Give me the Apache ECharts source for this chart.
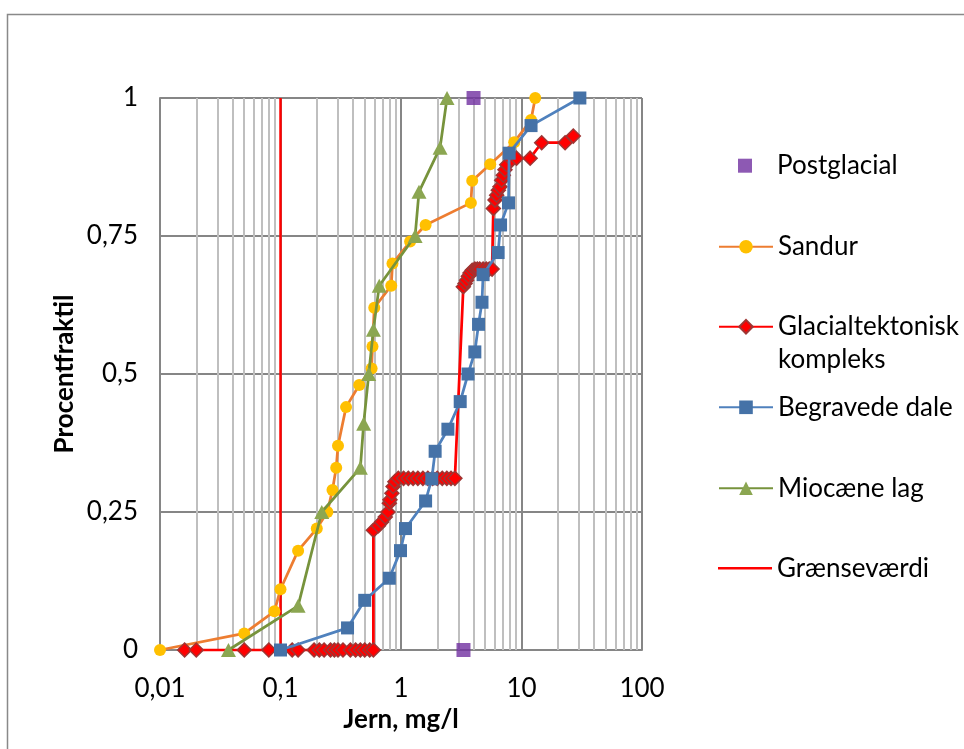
<!DOCTYPE html>
<html><head><meta charset="utf-8">
<script src="https://cdn.jsdelivr.net/npm/echarts@6/dist/echarts.min.js"></script>
<style>html,body{margin:0;padding:0;background:#fff}#c{width:964px;height:749px}</style>
</head><body><div id="c"></div>
<script>
// ---- data ----
const xTickLabels = ['0,01', '0,1', '1', '10', '100'];
const yTickLabels = ['0', '0,25', '0,5', '0,75', '1'];

const postX = [4.0, 3.3];
const postY = [1, 0];

const sandurX = [0.01, 0.05, 0.089, 0.1, 0.14, 0.2, 0.245, 0.27, 0.29, 0.3, 0.35, 0.45, 0.57, 0.58, 0.6, 0.83, 0.85, 1.19, 1.6, 3.8, 3.9, 5.5, 8.7, 12, 13];
const sandurY = [0, 0.03, 0.07, 0.11, 0.18, 0.22, 0.25, 0.29, 0.33, 0.37, 0.44, 0.48, 0.51, 0.55, 0.62, 0.66, 0.70, 0.74, 0.77, 0.81, 0.85, 0.88, 0.92, 0.96, 1.0];

const glacX = [0.016, 0.02, 0.05, 0.08, 0.125, 0.14, 0.19, 0.21, 0.23, 0.26, 0.28, 0.3, 0.33, 0.38, 0.42, 0.46, 0.5, 0.55, 0.59,
  0.59, 0.65, 0.69, 0.74, 0.78, 0.8, 0.81, 0.84, 0.86, 0.89, 0.95,
  1.05, 1.15, 1.26, 1.38, 1.52, 1.67, 1.83, 2.0, 2.2, 2.4, 2.6, 2.8,
  3.29, 3.4, 3.5, 3.62, 3.74, 3.9, 4.1, 4.3, 4.5, 4.8, 5.1, 5.4, 5.7,
  5.84, 6.03, 6.22, 6.42, 6.63, 6.85, 7.06, 7.29, 7.54, 8.3, 9.1, 11.8, 14.7, 23, 26.9];
const glacY = [0, 0, 0, 0, 0, 0, 0, 0, 0, 0, 0, 0, 0, 0, 0, 0, 0, 0, 0,
  0.217, 0.225, 0.232, 0.241, 0.25, 0.266, 0.272, 0.284, 0.296, 0.305, 0.311,
  0.311, 0.311, 0.311, 0.311, 0.311, 0.311, 0.311, 0.311, 0.311, 0.311, 0.311, 0.311,
  0.658, 0.664, 0.67, 0.677, 0.683, 0.688, 0.69, 0.69, 0.69, 0.69, 0.69, 0.69, 0.69,
  0.80, 0.815, 0.824, 0.833, 0.839, 0.851, 0.86, 0.87, 0.879, 0.888, 0.891, 0.891, 0.919, 0.919, 0.931];

const begrX = [0.1, 0.36, 0.5, 0.8, 0.99, 1.09, 1.6, 1.8, 1.92, 2.45, 3.1, 3.6, 4.1, 4.4, 4.7, 4.8, 6.4, 6.7, 7.8, 7.9, 12, 30.5];
const begrY = [0, 0.04, 0.09, 0.13, 0.18, 0.22, 0.27, 0.31, 0.36, 0.40, 0.45, 0.50, 0.54, 0.59, 0.63, 0.68, 0.72, 0.77, 0.81, 0.90, 0.95, 1.0];

const mioX = [0.037, 0.14, 0.22, 0.46, 0.49, 0.54, 0.59, 0.66, 1.31, 1.41, 2.11, 2.41];
const mioY = [0, 0.08, 0.25, 0.33, 0.41, 0.50, 0.58, 0.66, 0.75, 0.83, 0.91, 1.0];

const limitX = [0.1, 0.1];
const limitY = [0, 1];

const seriesNames = ['Postglacial', 'Sandur', 'Glacialtektonisk kompleks', 'Begravede dale', 'Miocæne lag', 'Grænseværdi'];

// ---- helpers ----
function pairs(xs, ys) { return xs.map((x, i) => [x, ys[i]]); }
const minorMult = [2, 3, 4, 5, 6, 7, 8, 9];
const decades = [0.01, 0.1, 1, 10];
const minorLines = [];
decades.forEach(d => minorMult.forEach(m => minorLines.push({ xAxis: +(d * m).toPrecision(3) })));

const FONT = 'Lato';
const FS = 26;
const majorGrid = '#868686';

function legendFor(name, yc, opts) {
  opts = opts || {};
  return Object.assign({
    orient: 'vertical',
    left: 718,
    top: yc - 16.5,
    padding: 0,
    itemGap: 0,
    itemWidth: 54,
    itemHeight: 17,
    data: [name],
    selectedMode: false,
    textStyle: { fontFamily: FONT, fontSize: FS, color: '#000', lineHeight: 33 }
  }, opts);
}

const chart = echarts.init(document.getElementById('c'), null, { renderer: 'canvas' });
chart.setOption({
  animation: false,
  backgroundColor: '#fff',
  graphic: [{
    type: 'rect', left: 5, top: 12, z: -10, silent: true,
    shape: { x: 0, y: 0, width: 1000, height: 800 },
    style: { fill: 'none', stroke: '#898989', lineWidth: 1.5 }
  }],
  grid: { left: 160, right: 322, top: 98, bottom: 99, containLabel: false },
  xAxis: {
    type: 'log', logBase: 10, min: 0.01, max: 100,
    name: 'Jern, mg/l', nameLocation: 'middle', nameGap: 56,
    nameTextStyle: { fontFamily: FONT, fontSize: FS, fontWeight: 'bold', color: '#000' },
    axisLine: { show: true, lineStyle: { color: majorGrid, width: 2 } },
    axisTick: { show: false },
    axisLabel: {
      fontFamily: FONT, fontSize: FS, color: '#000', margin: 26,
      formatter: (v, i) => xTickLabels[i] !== undefined ? xTickLabels[i] : String(v).replace('.', ',')
    },
    splitLine: { show: true, lineStyle: { color: majorGrid, width: 2 } },
    minorTick: { show: false }, minorSplitLine: { show: false }
  },
  yAxis: {
    type: 'value', min: 0, max: 1, interval: 0.25,
    name: 'Procentfraktil', nameLocation: 'middle', nameGap: 82, nameRotate: 90,
    nameTextStyle: { fontFamily: FONT, fontSize: FS, fontWeight: 'bold', color: '#000' },
    axisLine: { show: true, lineStyle: { color: majorGrid, width: 2 } },
    axisTick: { show: false },
    axisLabel: {
      fontFamily: FONT, fontSize: FS, color: '#000', margin: 22,
      formatter: (v, i) => yTickLabels[i] !== undefined ? yTickLabels[i] : String(v).replace('.', ',')
    },
    splitLine: { show: true, lineStyle: { color: majorGrid, width: 2 } }
  },
  legend: [
    legendFor('Postglacial', 165.7, { left: 738, itemWidth: 14, itemHeight: 14, icon: 'rect',
      textStyle: { fontFamily: FONT, fontSize: FS, color: '#000', lineHeight: 33, padding: [0, 0, 0, 20] } }),
    legendFor('Sandur', 246.7),
    legendFor('Glacialtektonisk kompleks', 326.7, { top: 326.7 - 49.5,
      formatter: () => '\nGlacialtektonisk\nkompleks' }),
    legendFor('Begravede dale', 407.3),
    legendFor('Miocæne lag', 488.3),
    legendFor('Grænseværdi', 568.3, { icon: 'rect', itemHeight: 2.5 })
  ],
  series: [
    {
      type: 'line', data: [], silent: true, z: 1,
      markLine: {
        silent: true, z: 1, animation: false,
        symbol: ['none', 'none'], label: { show: false },
        lineStyle: { color: '#BFBFBF', type: 'solid', width: 2 },
        emphasis: { disabled: true },
        data: minorLines
      }
    },
    {
      name: seriesNames[5], type: 'line', data: pairs(limitX, limitY), z: 2,
      symbol: 'none', lineStyle: { color: '#FF0000', width: 2.5 }, itemStyle: { color: '#FF0000' }
    },
    {
      name: seriesNames[0], type: 'scatter', data: pairs(postX, postY), z: 3,
      symbol: 'rect', symbolSize: 14, itemStyle: { color: '#7030A0' }
    },
    {
      name: seriesNames[1], type: 'line', data: pairs(sandurX, sandurY), z: 3,
      symbol: 'circle', symbolSize: 12, showAllSymbol: true,
      lineStyle: { color: '#ED7D31', width: 2.75 },
      itemStyle: { color: '#FFC000', borderWidth: 0 }
    },
    {
      name: seriesNames[2], type: 'line', data: pairs(glacX, glacY), z: 4,
      symbol: 'diamond', symbolSize: 14, showAllSymbol: true,
      lineStyle: { color: '#FF0000', width: 2.75 },
      itemStyle: { color: '#FF0000', borderColor: '#9E3634', borderWidth: 1.5 }
    },
    {
      name: seriesNames[3], type: 'line', data: pairs(begrX, begrY), z: 5,
      symbol: 'rect', symbolSize: 13, showAllSymbol: true,
      lineStyle: { color: '#4F81BD', width: 2.75 },
      itemStyle: { color: '#4572A7', borderWidth: 0 }
    },
    {
      name: seriesNames[4], type: 'line', data: pairs(mioX, mioY), z: 6,
      symbol: 'triangle', symbolSize: [15, 14], showAllSymbol: true,
      lineStyle: { color: '#77933C', width: 2.75 },
      itemStyle: { color: '#8BA651', borderWidth: 0 }
    }
  ]
});
</script>
</body></html>
